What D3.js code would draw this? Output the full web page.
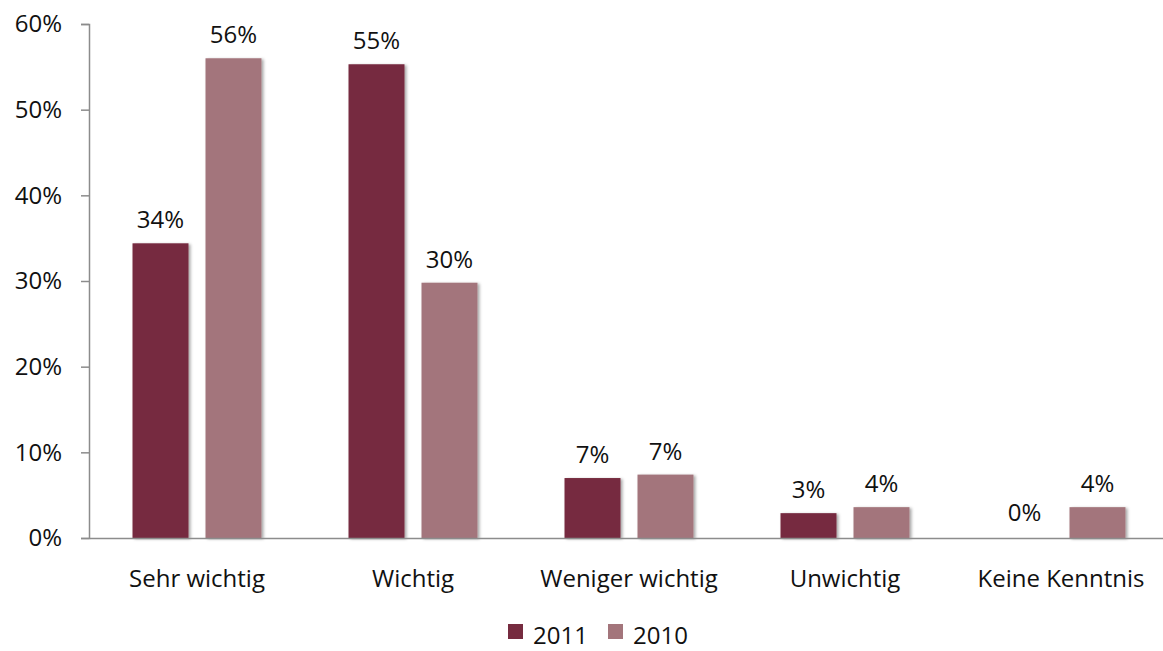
<!DOCTYPE html>
<html>
<head>
<meta charset="utf-8">
<script src="https://cdn.jsdelivr.net/npm/d3@7"></script>
<style>
  html, body { margin: 0; padding: 0; background: #fff; }
  svg { display: block; font-family: "Open Sans", "DejaVu Sans", sans-serif; }
</style>
</head>
<body>
<svg id="chart" width="1163" height="651"></svg>
<script>
// Survey answers, share of respondents per year
const categories = ["Sehr wichtig", "Wichtig", "Weniger wichtig", "Unwichtig", "Keine Kenntnis"];
const years = ["2011", "2010"];
const values2011 = [34.4, 55.3, 7.0, 2.9, 0];
const values2010 = [56.0, 29.8, 7.4, 3.6, 3.6];
const yTicks = [0, 10, 20, 30, 40, 50, 60];
const colors = ["#762b3f", "#a3757b"];

const series = [values2011, values2010];

const svg = d3.select("#chart");
const x0 = 89, x1 = 1169, yTop = 24, yZero = 538;
const FS = 24;

const x = d3.scaleBand().domain(categories).range([x0, x1]).paddingInner(0).paddingOuter(0);
const xs = d3.scaleBand().domain(years).range([0, x.bandwidth()]).paddingInner(0.233).paddingOuter(0.596);
const y = d3.scaleLinear().domain([0, 60]).range([yZero, yTop]);

// soft shadow on bars
const defs = svg.append("defs");
const f = defs.append("filter").attr("id", "shadow").attr("x", "-20%").attr("y", "-20%").attr("width", "150%").attr("height", "150%");
f.append("feDropShadow").attr("dx", 2).attr("dy", 1).attr("stdDeviation", 1.6)
  .attr("flood-color", "#000").attr("flood-opacity", 0.35);

// y axis
const yAxis = d3.axisLeft(y).tickValues(yTicks).tickSize(8).tickPadding(19)
  .tickFormat(d => d + "%");
const gy = svg.append("g").attr("transform", `translate(${x0},0)`).call(yAxis);
gy.select(".domain").attr("stroke", "#8c8c8c").attr("stroke-width", 1.5);
gy.selectAll(".tick line").attr("stroke", "#8c8c8c").attr("stroke-width", 1.5);
gy.selectAll(".tick text").attr("font-size", FS).attr("fill", "#111")
  .attr("font-family", "'Open Sans', sans-serif");

// bars
const data = [];
categories.forEach((c, i) => years.forEach((yr, j) => data.push({ cat: c, year: yr, v: series[j][i], j })));

const bars = svg.append("g");
bars.selectAll("rect").data(data.filter(d => d.v > 0)).join("rect")
  .attr("x", d => x(d.cat) + xs(d.year))
  .attr("width", xs.bandwidth())
  .attr("y", d => y(d.v))
  .attr("height", d => y(0) - y(d.v))
  .attr("fill", d => colors[d.j])
  .attr("filter", "url(#shadow)");

// x axis baseline and category labels
const xAxis = d3.axisBottom(x).tickSize(0);
const gx = svg.append("g").attr("transform", `translate(0,${yZero})`).call(xAxis);
gx.select(".domain").attr("stroke", "#8c8c8c").attr("stroke-width", 1.5);
gx.selectAll(".tick text").attr("font-size", FS).attr("fill", "#111")
  .attr("font-family", "'Open Sans', sans-serif")
  .attr("y", 49).attr("dy", 0);

// value labels
svg.append("g").selectAll("text").data(data).join("text")
  .attr("x", d => x(d.cat) + xs(d.year) + xs.bandwidth() / 2)
  .attr("y", d => y(d.v) - (d.v > 0 ? 15 : 17))
  .attr("text-anchor", "middle")
  .attr("font-size", FS)
  .attr("fill", "#111")
  .text(d => Math.round(d.v) + "%");

// legend
const legend = svg.append("g").attr("transform", "translate(508,624)");
const lx = [0, 100];
years.forEach((yr, j) => {
  const g = legend.append("g").attr("transform", `translate(${lx[j]},0)`);
  g.append("rect").attr("width", 15).attr("height", 15).attr("fill", colors[j]);
  g.append("text").attr("x", 25).attr("y", 20).attr("font-size", FS).attr("fill", "#111").text(yr);
});
</script>
</body>
</html>
